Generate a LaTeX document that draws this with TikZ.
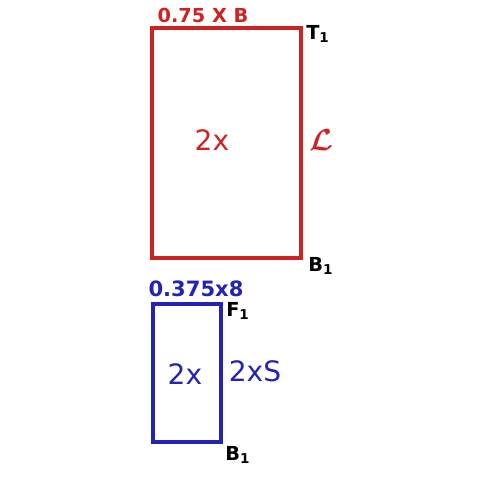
\documentclass[tikz,border=0pt]{standalone}
\usepackage{fontspec}
\setmainfont{DejaVu Sans}
\usetikzlibrary{positioning}
\definecolor{sketchred}{RGB}{205,35,35}
\definecolor{sketchblue}{RGB}{35,35,180}
\tikzset{
    block/.style={
        rectangle, line width=2.2pt, inner sep=0pt
    },
    redblock/.style={block, draw=sketchred},
    blueblock/.style={block, draw=sketchblue},
    redlabel/.style={text=sketchred, font=\fontsize{11}{11}\selectfont\bfseries},
    bluelabel/.style={text=sketchblue, font=\fontsize{12}{12}\selectfont\bfseries},
    corner/.style={text=black, font=\fontsize{11}{11}\selectfont\bfseries}
}

\begin{document}
\begin{tikzpicture}[x=0.02cm, y=-0.02cm]
\useasboundingbox (0,0) rectangle (500,488);

% Top rectangle
\node[redblock, minimum width=2.98cm, minimum height=4.6cm] (top) at (226.5,143) {};
\node[redlabel] (topwidth) at (203,15) {0.75 X B};
\node[redlabel, font=\fontsize{16}{16}\selectfont] (topx) at (212,140) {2x};
\node[redlabel, font=\fontsize{18}{18}\selectfont\boldmath] (toplen) at (321,140) {$\mathcal{L}$};
\node[corner] (t1) at (318,34) {T\textsubscript{1}};
\node[corner] (b1top) at (321,266) {B\textsubscript{1}};

% Bottom rectangle
\node[blueblock, minimum width=1.36cm, minimum height=2.76cm] (bot) at (187,373) {};
\node[bluelabel] (botwidth) at (196,289) {0.375x8};
\node[bluelabel, font=\fontsize{16}{16}\selectfont] (botx) at (185,374) {2x};
\node[bluelabel, font=\fontsize{16}{16}\selectfont] (botlen) at (255,371) {2xS};
\node[corner] (f1) at (238,311) {F\textsubscript{1}};
\node[corner] (b1bot) at (238,455) {B\textsubscript{1}};

\end{tikzpicture}
\end{document}
